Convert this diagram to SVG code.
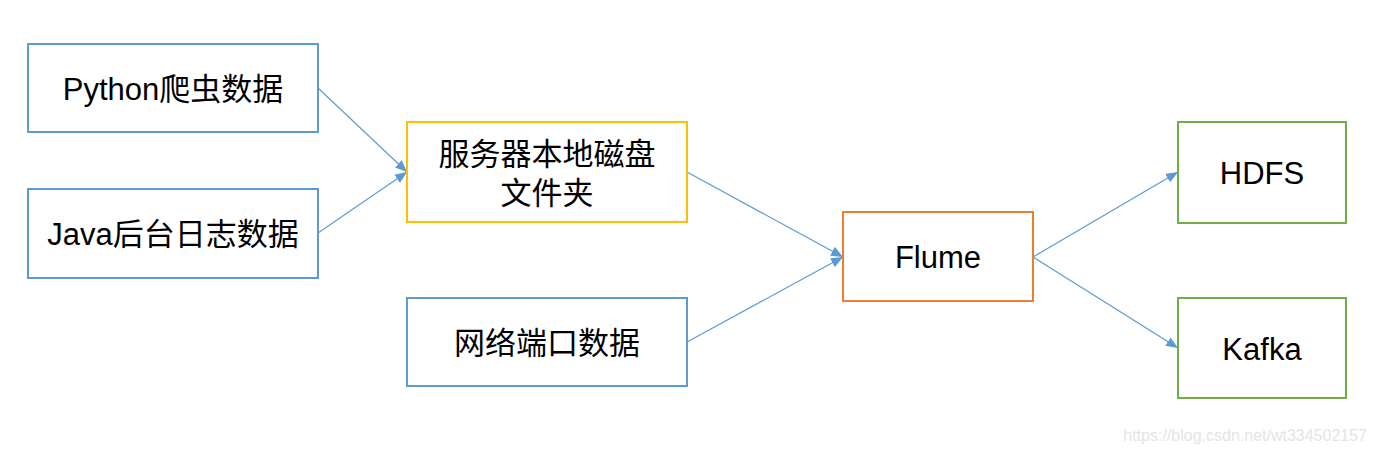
<svg xmlns="http://www.w3.org/2000/svg" width="1377" height="453" viewBox="0 0 1377 453">
<defs>
<style>
.box{fill:#fff;stroke-width:2}
.blue{stroke:#5B9BD5}
.yellow{stroke:#FFC000}
.orange{stroke:#ED7D31}
.green{stroke:#70AD47}
.lbl{font-family:"Liberation Sans","Noto Sans CJK SC",sans-serif;font-size:31px;fill:#000;text-anchor:middle}
.conn{stroke:#5B9BD5;stroke-width:1.2;fill:none;marker-end:url(#arr)}
.wm{font-family:"Liberation Sans",sans-serif;font-size:16px;fill:#e4e4e4;text-anchor:end}
</style>
<marker id="arr" viewBox="0 0 12 10" refX="12" refY="5" markerWidth="12" markerHeight="10" markerUnits="userSpaceOnUse" orient="auto">
<path d="M0,0 L12,5 L0,10 Z" fill="#5B9BD5"/>
</marker>
</defs>
<rect width="1377" height="453" fill="#fff"/>
<g id="connectors">
<line class="conn" x1="318" y1="88" x2="407" y2="172"/>
<line class="conn" x1="318" y1="233" x2="407" y2="172"/>
<line class="conn" x1="687" y1="172" x2="843" y2="257"/>
<line class="conn" x1="687" y1="342" x2="843" y2="257"/>
<line class="conn" x1="1033" y1="257" x2="1178" y2="172"/>
<line class="conn" x1="1033" y1="257" x2="1178" y2="348"/>
</g>
<g id="python">
<rect class="box blue" x="28" y="44" width="290" height="88"/>
<text class="lbl" x="173" y="99.5">Python爬虫数据</text>
</g>
<g id="java">
<rect class="box blue" x="28" y="189" width="290" height="89"/>
<text class="lbl" x="173" y="245">Java后台日志数据</text>
</g>
<g id="disk">
<rect class="box yellow" x="407" y="122" width="280" height="100"/>
<text class="lbl" x="547" y="164.5">服务器本地磁盘</text>
<text class="lbl" x="547" y="203.5">文件夹</text>
</g>
<g id="network">
<rect class="box blue" x="407" y="298" width="280" height="88"/>
<text class="lbl" x="547" y="353.5">网络端口数据</text>
</g>
<g id="flume">
<rect class="box orange" x="843" y="212" width="190" height="89"/>
<text class="lbl" x="938" y="268">Flume</text>
</g>
<g id="hdfs">
<rect class="box green" x="1178" y="122" width="168" height="101"/>
<text class="lbl" x="1262" y="183.5">HDFS</text>
</g>
<g id="kafka">
<rect class="box green" x="1178" y="298" width="168" height="100"/>
<text class="lbl" x="1262" y="359.5">Kafka</text>
</g>
<text class="wm" x="1367" y="441">https://blog.csdn.net/wt334502157</text>
</svg>
